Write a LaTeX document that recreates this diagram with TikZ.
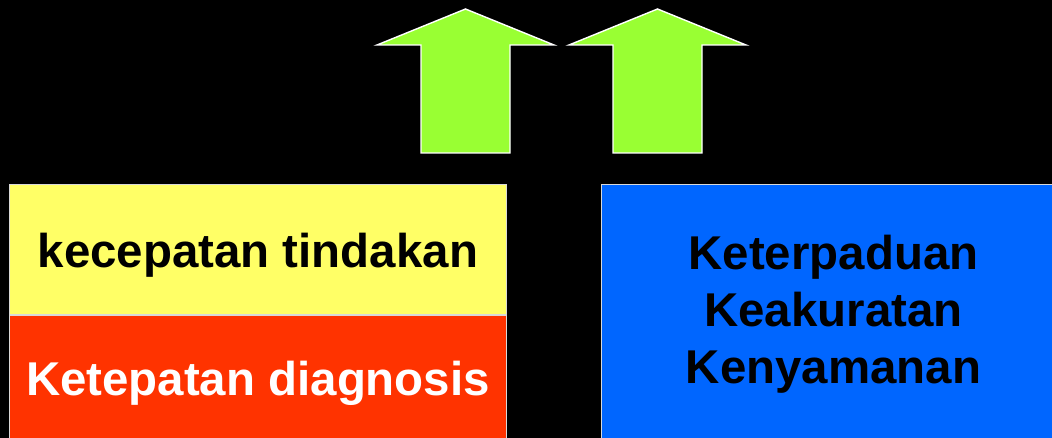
\documentclass[tikz,border=0pt]{standalone}
\usepackage{fontspec}
\setmainfont{Liberation Sans}
\usetikzlibrary{positioning}
\definecolor{arrowgreen}{HTML}{99FF33}
\definecolor{speedyellow}{HTML}{FFFF66}
\definecolor{diagred}{HTML}{FF3300}
\definecolor{unityblue}{HTML}{0066FF}
\tikzset{
    panel_node/.style={rectangle, text centered, align=center, draw=white!85!black, line width=0.6pt, inner sep=0pt, font=\fontsize{27}{32.4}\selectfont\bfseries},
    up_arrow/.style={fill=arrowgreen, draw=white, line width=0.8pt, line join=miter},
}

\begin{document}
\begin{tikzpicture}[x=0.02cm, y=-0.02cm, node distance=0pt]
      \useasboundingbox (0,0) rectangle (1052,438);
      \fill [black] (0,0) rectangle (1052,438);
      \clip (0,0) rectangle (1052,438);
      %%%%%%%%%%
      % Arrows %
      %%%%%%%%%%
      \draw [up_arrow] (465.5,9) -- (554,45) -- (510,45) -- (510,153)
          -- (421,153) -- (421,45) -- (377,45) -- cycle;
      \draw [up_arrow] (657.5,9) -- (746,45) -- (702,45) -- (702,153)
          -- (613,153) -- (613,45) -- (569,45) -- cycle;
      %%%%%%%%%%
      % Panels %
      %%%%%%%%%%
      \node (speed) [panel_node, anchor=north west, fill=speedyellow,
          minimum width=9.94cm, minimum height=2.6cm,
          text height=0.9cm, text depth=0.2cm] at (9,184)
          {kecepatan tindakan};
      \node (diagnosis) [panel_node, below = of speed, fill=diagred, text=white,
          minimum width=9.94cm, minimum height=2.72cm]
          {Ketepatan diagnosis};
      \node (quality) [panel_node, anchor=north west, fill=unityblue,
          minimum width=9.28cm, minimum height=5.2cm] at (601,184)
          {Keterpaduan\\Keakuratan\\Kenyamanan};
\end{tikzpicture}
\end{document}
